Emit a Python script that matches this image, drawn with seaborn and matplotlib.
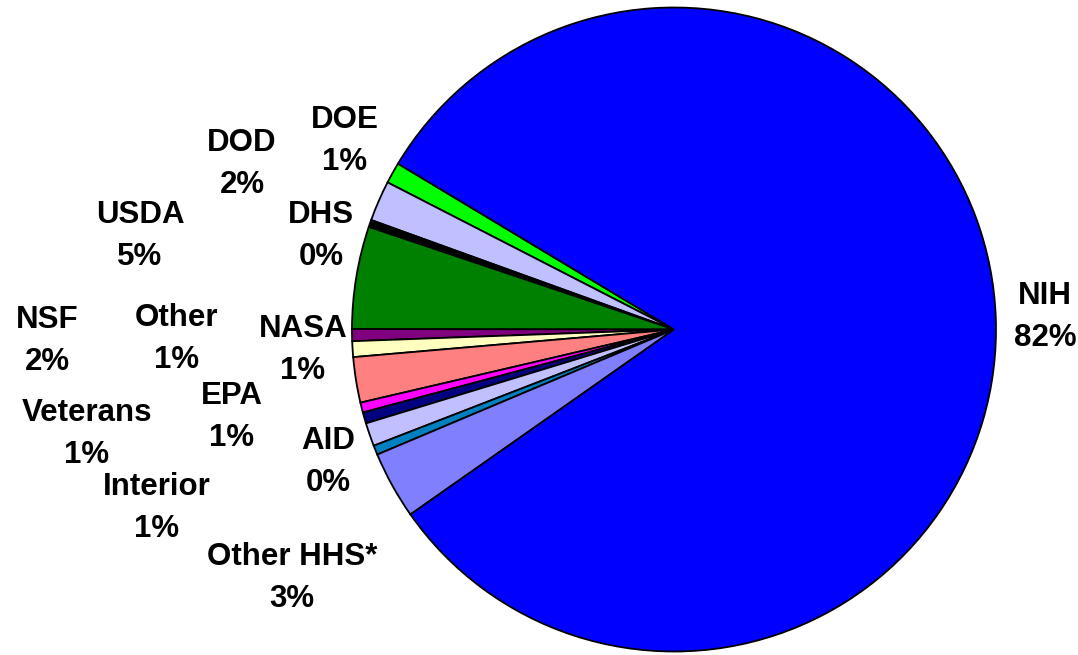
import matplotlib
matplotlib.use("Agg")
import matplotlib.pyplot as plt
import seaborn as sns

# ---- data ----
agencies = ["DOE", "DOD", "DHS", "USDA", "NASA", "Other", "NSF", "EPA",
            "Veterans", "Interior", "AID", "Other HHS*", "NIH"]
shares = [1.06, 2.03, 0.36, 5.14, 0.60, 0.79, 2.28, 0.50,
          0.56, 1.17, 0.47, 3.39, 81.65]
pct_labels = ["1%", "2%", "0%", "5%", "1%", "1%", "2%", "1%",
              "1%", "1%", "0%", "3%", "82%"]
colors = ["#00FF00", "#C0C0FF", "#000000", "#008000", "#800080", "#FFFFC0",
          "#FF8080", "#FF00FF", "#000080", "#C0C0FF", "#0080C0", "#8080FF",
          "#0000FF"]

# label block centres in pixel coordinates (layout)
label_px = [(345, 141), (242, 164), (321, 236), (140, 236), (303, 350),
            (177, 339), (47, 341), (232, 417), (87, 434), (157, 508),
            (328, 462), (292, 578), (1045, 317)]

sns.set_theme(style="white")
plt.rcParams["font.family"] = ["Liberation Sans", "DejaVu Sans"]

W, H = 1078, 655
CX, CY, R = 674, 329.5, 322
fig = plt.figure(figsize=(W / 100, H / 100), dpi=100)
ax = fig.add_axes([0, 0, 1, 1])

ax.pie(shares, colors=colors, startangle=149, counterclock=True,
       radius=1, center=(0, 0), frame=True,
       wedgeprops=dict(edgecolor="black", linewidth=1.3))
ax.set_xlim(-CX / R, (W - CX) / R)
ax.set_ylim(-(H - CY) / R, CY / R)
ax.set_aspect("auto")
ax.axis("off")

for name, pct, (px, py) in zip(agencies, pct_labels, label_px):
    x = (px - CX) / R
    y = (CY - py) / R
    ax.text(x, y, f"{name}\n{pct}", ha="center", va="center",
            fontsize=22.5, fontweight="bold", color="black",
            linespacing=1.55)

fig.savefig("out.png", dpi=100, facecolor="white")
